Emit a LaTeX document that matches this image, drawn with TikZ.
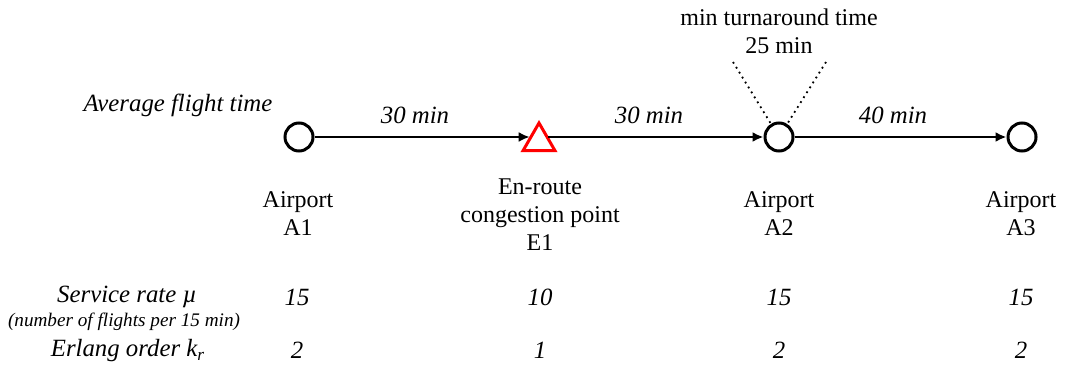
\documentclass[tikz,border=0pt]{standalone}
\usepackage{fontspec}
\setmainfont{Liberation Serif}
\usetikzlibrary{shapes.geometric,arrows.meta}
\begin{document}
\begin{tikzpicture}[x=0.5pt,y=-0.5pt,
  every node/.style={font=\fontsize{12}{14}\selectfont, inner sep=0pt, align=center},
  airport/.style={circle, draw, line width=1.5pt, minimum size=14pt},
  enroute/.style={regular polygon, regular polygon sides=3, draw=red, line width=1.5pt, minimum size=18.5pt},
  flow/.style={line width=1.4pt, -{Latex[length=5.5pt,width=5pt]}},
  lbl/.style={font=\fontsize{12.4}{14}\selectfont\itshape},
  small/.style={font=\fontsize{9.6}{11}\selectfont\itshape},
  turn/.style={line width=0.9pt, dotted}]
\useasboundingbox (0,0) rectangle (1068,368);
% nodes
\node[airport] (A1) at (299,137) {};
\node[enroute] (E1) at (539,141.5) {};
\node[airport] (A2) at (779,137) {};
\node[airport] (A3) at (1022,137) {};
% connectors
\draw[flow] (A1.east) -- (A1.east -| E1.side 1);
\draw[flow] (E1.side 3 |- A2.west) -- (A2.west);
\draw[flow] (A2) -- (A3);
% flight times
\node[lbl] (t1) at (415,115) {30 min};
\node[lbl] (t2) at (649,115) {30 min};
\node[lbl] (t3) at (893,115) {40 min};
\node[lbl] (aft) at (178,105) {Average flight time};
% turnaround
\node (turn) at (779,31) {min turnaround time\\25 min};
\coordinate (dl) at (733,62);
\coordinate (dr) at (826,62);
\draw[turn] (dl) -- (A2);
\draw[turn] (dr) -- (A2);
% names
\node (nA1) at (298,214) {Airport\\A1};
\node (nE1) at (540,215) {En-route\\congestion point\\E1};
\node (nA2) at (779,214) {Airport\\A2};
\node (nA3) at (1021,214) {Airport\\A3};
% service rate row
\node[lbl] (sr) at (127,297) {Service rate \textmu};
\node[small] (srs) at (124,322) {(number of flights per 15 min)};
\node[lbl] (s1) at (297,297) {15};
\node[lbl] (s2) at (540,297) {10};
\node[lbl] (s3) at (779,297) {15};
\node[lbl] (s4) at (1021,297) {15};
% erlang row
\node[lbl] (er) at (128,351) {Erlang order \textit{k}\textsubscript{\textit{r}}};
\node[lbl] (e1) at (297,350) {2};
\node[lbl] (e2) at (540,350) {1};
\node[lbl] (e3) at (779,350) {2};
\node[lbl] (e4) at (1021,350) {2};
\end{tikzpicture}
\end{document}
